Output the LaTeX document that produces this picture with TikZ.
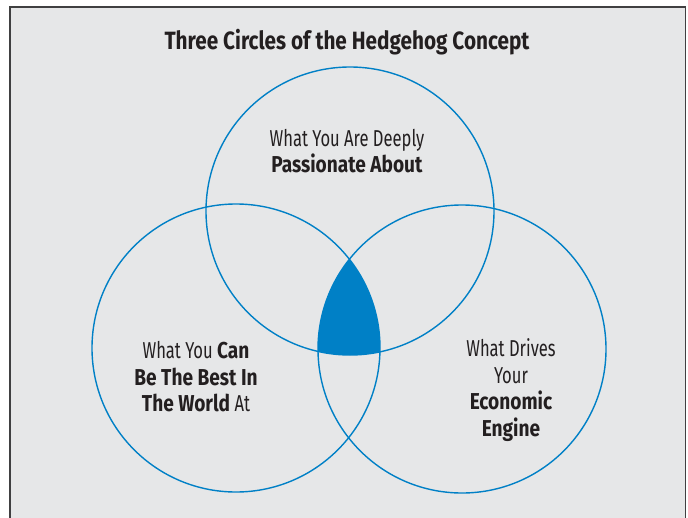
\documentclass[tikz,border=0pt]{standalone}
\usepackage{fontspec}
\setmainfont{Fira Sans}[FakeStretch=0.72,BoldFeatures={FakeStretch=0.83}]
\definecolor{bg}{HTML}{E6E7E8}
\definecolor{frame}{HTML}{404041}
\definecolor{ring}{HTML}{0080C6}
\definecolor{ink}{HTML}{231F20}
\begin{document}
\begin{tikzpicture}[x=1pt,y=-1pt,
  ringc/.style={circle,draw=ring,line width=1.4pt,minimum size=288pt,inner sep=0pt},
  lbl/.style={align=center,text=ink,font=\fontsize{23}{26.5}\selectfont,inner sep=0pt},
  ttl/.style={text=ink,font=\bfseries\fontsize{25}{28}\selectfont,inner sep=0pt}]
\useasboundingbox (0,0) rectangle (688,517);
\fill[white] (0,0) rectangle (688,517);
\draw[fill=bg,draw=frame,line width=1.5pt] (10,7) rectangle (685.5,540);
\node[ringc] (top) at (350,211) {};
\node[ringc] (left) at (236,348) {};
\node[ringc] (right) at (462,349) {};
\begin{scope}
\clip (left.center) circle (144);
\clip (right.center) circle (144);
\fill[ring] (top.center) circle (144);
\end{scope}
\node[ttl] (title) at (347,42) {Three Circles of the Hedgehog Concept};
\node[lbl] (ttop) at (347,151) {What You Are Deeply\\\textbf{Passionate About}};
\node[lbl] (tleft) at (196,377) {What You \textbf{Can}\\\textbf{Be The Best In}\\\textbf{The World} At};
\node[lbl] (tright) at (511,390) {What Drives\\Your\\\textbf{Economic}\\\textbf{Engine}};
\end{tikzpicture}
\end{document}
